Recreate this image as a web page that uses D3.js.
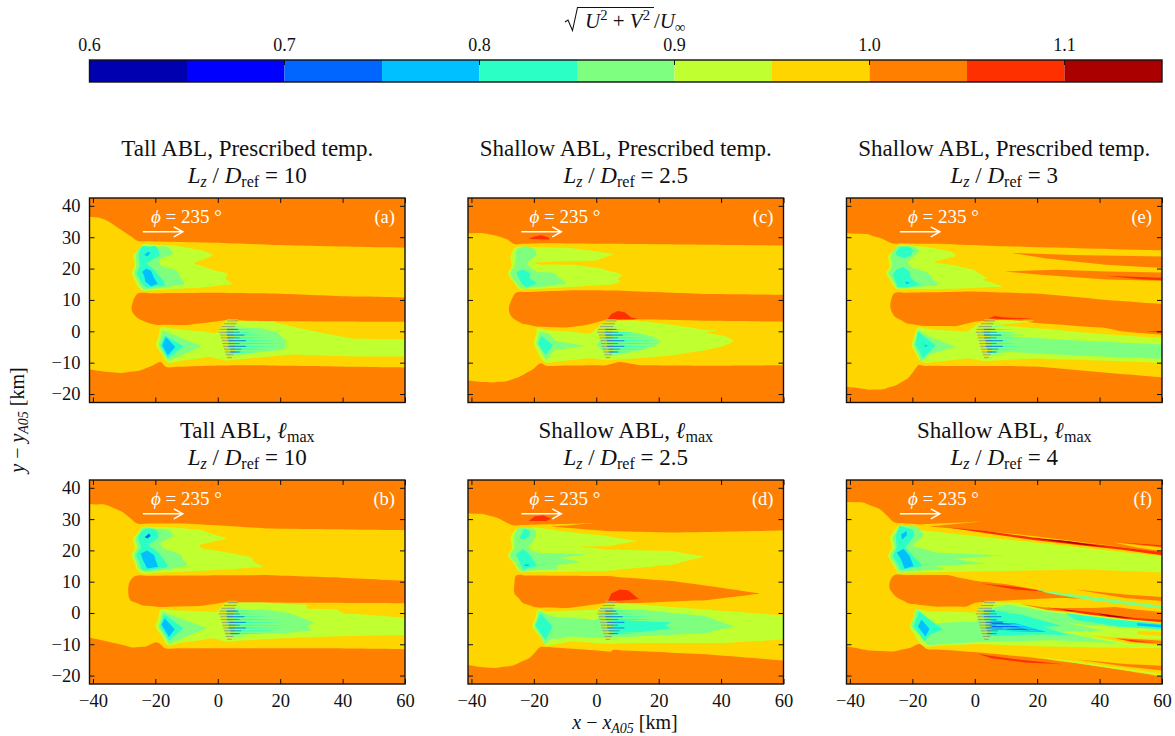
<!DOCTYPE html>
<html><head><meta charset="utf-8">
<script src="https://cdn.jsdelivr.net/npm/d3@7"></script>
<style>html,body{margin:0;padding:0;background:#fff}svg{display:block}text{font-family:"Liberation Serif",serif;fill:#111}</style>
</head><body><div id="chart"></div>
<script>
// ---- colour levels (colourbar) ----
const levelEdges=[0.6,0.65,0.7,0.75,0.8,0.85,0.9,0.95,1.0,1.05,1.1,1.15];
const levelColors=["#0000b0","#0000ff","#0066ff","#00c0ff","#2cffc6","#7fff7f","#c0ff30","#ffd500","#ff8000","#ff3000","#aa0000"];
const barTicks=[0.6,0.7,0.8,0.9,1.0,1.1];
const xTicks=[-40,-20,0,20,40,60];
const yTicks=[-20,-10,0,10,20,30,40];
const B=0,BL=1,AZ=2,CY=3,TE=4,GR=5,YG=6,YE=7,OR=8,RE=9,DR=10;

// ---- panel (a) ----
const aYellow=[[-41.2,36.7],[-38,36.2],[-35,35],[-32,33],[-29,31],[-25.6,28.8],[0,28.2],[20,27.5],[40,27],[60.5,26.6],[60.5,10.7],[40,11.2],[20,12],[0,12.3],[-25.5,12.1],[-26.5,11],[-27.6,8],[-27.5,6.5],[-26,4.5],[-23,3],[-19.8,2.1],[-10,2],[2.7,3.5],[20,3.2],[60.5,3],[60.5,-11.6],[30,-11.1],[10,-10.8],[0,-10.9],[-16.5,-11.4],[-18.4,-9.8],[-21,-11],[-25,-12.5],[-31,-13.3],[-35,-13],[-41.2,-11.7]];
const aYgTop=[[-24,27.7],[-13.4,27.3],[-4.8,25.7],[-1.6,24.3],[-7.5,21.6],[-3.7,20.3],[3.2,18.2],[2.5,16.8],[4.5,15.2],[-4.8,14],[-18.7,13.1],[-24,12.9],[-25.6,14.2],[-27.6,18.4],[-26.7,21],[-27,24.3]];
const aGrTop=[[-25,26.7],[-16.6,27],[-14.4,24.8],[-18.7,22.7],[-18.2,21],[-12.8,19],[-12,17.4],[-10.7,15.2],[-16.6,14],[-23.5,13.3],[-25,14.7],[-26.7,18.4],[-26,21],[-26.2,24.3]];
const aTeTop=[[-24.2,27],[-19.8,27],[-18.8,24.3],[-22.5,21.6],[-20.3,19.5],[-17.6,16.3],[-17,14.7],[-21.9,14],[-24,14.7],[-25.9,18.4],[-25,21],[-25.3,24.3]];
const aCyTop1=[[-24.2,19],[-22.9,20],[-21.4,19.3],[-20.3,16.8],[-19.2,15.2],[-21.4,14.4],[-23.2,15.8],[-23.5,17.5]];
const aCyTop2=[[-23.6,24.3],[-22.3,25.4],[-21.6,25],[-22.5,23.9]];
const aYgLow=[[-18.2,1.2],[-0.5,-0.5],[2.7,3.5],[17.6,3],[29.4,0.3],[43,-2.3],[60.5,-2.7],[60.5,-8],[43,-8],[24,-7.4],[2.7,-9.3],[-2.7,-8.2],[-16,-10],[-19.8,-4.5]];
const aGrLow=[[-17.6,0.3],[-5.1,-4.8],[-16,-9.5],[-19,-4.5]];
const aTeLow=[[-17,-1.3],[-11,-4.8],[-16,-8.7],[-18.4,-4.5]];
const aCyLow=[[-16.6,-1.8],[-13.6,-5],[-16,-7.7],[-17.8,-4.5]];
const aGrRear=[[3,1.2],[14,1],[19,-0.3],[22,-3],[21.5,-5.8],[15,-6.5],[3,-7.5]];
const aFingers=[5,7,9,11,13,15,17,19,21,20,18,14,9,6];
const aLayers=[[YE,aYellow],[YG,aYgTop],[GR,aGrTop],[TE,aTeTop],[CY,aCyTop1],[CY,aCyTop2],[YG,aYgLow],[GR,aGrLow],[TE,aTeLow],[CY,aCyLow],[GR,aGrRear]];

// ---- panel (b) ----
const bYellow=[[-41.4,34.9],[-36,34.6],[-30.6,32.3],[-25.8,28.6],[-11.3,28.6],[-0.5,28],[15.6,27],[60.5,26.4],[60.5,10.1],[37,11.4],[15.6,12.1],[-26.3,11.9],[-28.2,10],[-28.7,6.8],[-28,4.1],[-24.2,2.5],[-18.8,1.9],[-5.9,2.2],[2.7,3.4],[60.5,3.1],[60.5,-11.6],[37,-11.3],[-16.7,-11.3],[-19.4,-9.4],[-23.1,-10.7],[-27.4,-11],[-32.8,-9.7],[-41.4,-7]];
const bYgTop=[[-24.2,27.5],[-14.5,27.3],[-5.9,26.6],[2.7,23.8],[-5.9,21.7],[-4.8,20.6],[4.8,19],[10.8,17.7],[11.8,16.1],[14.5,14.8],[4.8,14],[-11.3,13.2],[-24.2,12.6],[-25.8,13.7],[-27.6,18.5],[-26.6,20.6],[-27.1,23.8]];
const bGrTop=[[-24,27.3],[-16.1,26.6],[-14.3,24.6],[-18.3,22.4],[-17.7,20.9],[-11.8,18.5],[-11.1,16.9],[-9.7,15.3],[-15.6,14],[-23.1,13.2],[-25.3,14.2],[-26.9,18.5],[-25.8,20.9],[-26.3,23.8]];
const bTeTop=[[-23.7,26.6],[-19.9,26.6],[-19,24.3],[-22,21.7],[-18.8,19],[-17.2,16.9],[-16.1,14.8],[-22,13.7],[-24.2,13.9],[-26.1,18.5],[-24.7,21.1],[-25.5,23.8]];
const bCyTop1=[[-24.7,19],[-22.6,20],[-20.4,18.5],[-19.9,16.9],[-19.1,14.8],[-22.6,14.2],[-24,16.9]];
const bCyTop2=[[-23.4,24.3],[-22,25.4],[-21.5,24.6],[-22.6,23.8]];
const bYgLow=[[-18.3,1],[-0.5,0.4],[2.7,3.4],[15.6,3.3],[28.5,2.5],[28.5,1.5],[38.2,1],[40.3,-0.1],[60.5,-1.7],[60.5,-7],[37,-7.5],[21,-8.1],[2.7,-9.1],[-1.6,-8.1],[-16.1,-10.2],[-19.9,-4.4]];
const bGrLow=[[-17.7,0.4],[-3.5,-4.9],[-15.6,-9.9],[-19,-4.4]];
const bTeLow=[[-17.2,-0.4],[-11.1,-4.9],[-15.6,-8.9],[-18.5,-4.4]];
const bCyLow=[[-17,-1.7],[-13.8,-5.2],[-15.6,-7.7],[-18,-3.8]];
const bGrRear=[[2.7,1],[15.6,1],[23.1,-0.1],[28.5,-2.2],[30.9,-3.1],[28.5,-4.4],[30.3,-5.6],[21,-6.5],[2.7,-7]];
const bFingers=[5,7,9,12,14,17,19,21,23,22,19,15,10,6];
const bLayers=[[YE,bYellow],[YG,bYgTop],[GR,bGrTop],[TE,bTeTop],[CY,bCyTop1],[AZ,bCyTop2],[YG,bYgLow],[GR,bGrLow],[TE,bTeLow],[CY,bCyLow],[GR,bGrRear]];

// ---- panel (c) ----
const cYellow=[[-41.2,31.3],[-36.3,31.3],[-32,30.5],[-28.8,29.4],[-26.2,27.8],[-18,28.1],[13.9,27.8],[60.5,27.3],[60.5,11.6],[35,11.9],[6.4,13],[-7.5,13.1],[-25.6,12.4],[-27.2,10],[-28,7],[-27.2,4.7],[-24,2.6],[-19.2,1.5],[-9.6,1.2],[-3.2,2],[3.2,3.6],[13.9,3.8],[35,3.4],[60.5,3],[60.5,-10.8],[35,-11],[13.9,-10.8],[7.5,-9.8],[3.2,-10.8],[-16,-11],[-17.8,-10.2],[-20.3,-12.1],[-24.6,-14.5],[-28.8,-15.9],[-33,-16.3],[-37.4,-16.1],[-41.2,-15.2]];
const cRedTop=[[-21.7,29.4],[-19.8,30.2],[-17.6,30.6],[-15.4,30],[-14.9,29.3]];
const cRedBump=[[3.5,3.8],[4.8,5.5],[6.9,6.5],[9.1,6.1],[11.2,4.4],[13.4,4],[11.8,3.8]];
const cYgTop=[[-24.6,27],[-7.5,26.5],[0,25.5],[5.3,24.6],[0,22.6],[-13.9,22.2],[-19.8,21.9],[-18.2,21.3],[-7.5,21.2],[1,20.1],[6.9,18.5],[8.2,17.7],[6.9,16.6],[7.8,16],[5.3,15],[-5.3,14.3],[-18.2,13.5],[-24.6,13.4],[-26.2,15.3],[-28.3,18.5],[-27.2,20.7],[-27.5,23.9],[-26.2,26.5]];
const cGrTop=[[-23,27],[-19.8,26.2],[-19.2,24.4],[-21.9,21.7],[-19.2,19.1],[-13.4,18.5],[-12.2,17.3],[-9.8,15.3],[-16,14.3],[-24,13.7],[-25.6,15.3],[-27.5,18.5],[-26.2,20.7],[-25.8,23.3],[-25.5,26]];
const cTeTop=[[-25.4,19],[-23.5,19.8],[-21.1,18.5],[-21.5,17],[-19,15.3],[-22.4,14],[-24,15.3],[-25.4,18]];
const cYgLow=[[-18.9,1],[-16,0.4],[-2,-0.6],[3.2,3.4],[12.8,3.4],[24.6,2],[35.3,0.4],[38.5,0.2],[35.3,-0.3],[41.7,-1.7],[43.8,-3.1],[40.6,-4.7],[35.3,-6],[24.6,-7.6],[13.9,-8.6],[3.2,-9.2],[-2.1,-8.6],[-16,-10],[-18.2,-8.1],[-20,-4],[-19.2,-0.6]];
const cGrLow=[[-18.2,-0.1],[-15,-0.9],[-13,-3],[-3.7,-4.7],[-13.4,-6],[-16,-9.2],[-19.2,-4]];
const cTeLow=[[-17.6,-1.4],[-13.9,-4.4],[-16.2,-7.6],[-18.7,-4]];
const cGrRear=[[0,-4.4],[3,-1],[7.5,-0.1],[13.9,-0.6],[18.2,-1.7],[20.8,-3.3],[18.2,-4.9],[13.9,-6.2],[7.5,-7],[3,-7]];
const cFingers=[4,6,8,10,13,15,17,19,20,19,16,12,8,5];
const cLayers=[[YE,cYellow],[RE,cRedTop],[RE,cRedBump],[YG,cYgTop],[GR,cGrTop],[TE,cTeTop],[YG,cYgLow],[GR,cGrLow],[TE,cTeLow],[GR,cGrRear]];

// ---- panel (d) ----
const dYellow=[[-41.2,31.9],[-36.4,31.6],[-32,30.5],[-26.7,28],[-18.2,28.3],[-1,28.7],[-14.4,27.6],[3.2,26.2],[24.6,25.7],[60.5,26.4],[60.5,-15.5],[35.3,-13.2],[5.3,-11.8],[4.8,-12.3],[-16,-10.9],[-17.9,-10.9],[-21.4,-14.4],[-26.7,-16.8],[-32.6,-17.6],[-37.4,-17.3],[-41.2,-16]];
const dNotch=[[-25.7,12],[3.2,11.8],[24.6,10.2],[40.6,8],[52.4,6.2],[35.3,4.1],[13.9,3.2],[3.2,3.2],[-9.1,1.6],[-19.3,1.8],[-23.5,3.2],[-26.2,6.2],[-26.2,9.6]];
const dRedTop=[[-21.7,29.4],[-19.8,30.8],[-17.1,31.2],[-14.4,30.2],[-16,29.4]];
const dRedBump=[[3.7,3.7],[4.8,6.2],[7.5,7.5],[10.2,7.3],[12.3,5.6],[13.6,4.5],[9.6,4.1]];
const dYgTop=[[-25.7,26.7],[-19.3,27.3],[-7.5,25.7],[3.2,24.6],[12.8,23],[4.3,21.4],[-5.3,21.2],[3.2,20.3],[24.6,19.8],[34.2,18],[24.6,15.5],[3.2,13.4],[-18.2,13],[-24.6,13.2],[-28.3,18.4],[-27,20.9],[-27.5,24.1]];
const dGrTop=[[-24.6,27.3],[-19.8,26.7],[-19.3,24.6],[-21.6,20.9],[-18.7,19.3],[-3.2,18.7],[-11.2,17.6],[-5.3,16.3],[-12.8,15],[-12.3,14.1],[-24.1,13.4],[-27.6,18.4],[-26.2,20.9],[-26.2,24.6]];
const dTeTop1=[[-24.6,24.1],[-23,27],[-21.2,26.2],[-21.4,24.6],[-23.5,23.3]];
const dTeTop2=[[-25.7,18.7],[-23.5,20.5],[-21.4,18.7],[-18.9,15],[-23.5,13.9]];
const dCyTop=[[-23,15.5],[-21.4,15.5],[-21.8,14.9],[-23,15]];
const dYgLow=[[-18.7,1.1],[-16,0.5],[0,1.1],[3.2,3.2],[13.9,2.7],[35.3,1.1],[60.5,-1.1],[60.5,-8.3],[40.6,-9.6],[13.9,-9.6],[3.2,-9.8],[-7.5,-9.1],[-16,-10.4],[-20.5,-4.3]];
const dGrLow=[[-18.2,0.5],[-13.9,-1.1],[0,-2.1],[2.1,1.1],[13.9,1.1],[35.3,-1.1],[43.9,-4.3],[35.3,-6.4],[13.9,-7.5],[3.2,-8],[-7.5,-7.5],[-15,-8.6],[-16.3,-9.8],[-19.8,-4.3]];
const dTeLow=[[-17.9,-0.2],[-13.9,-4.3],[-16.3,-8.6],[-19.5,-4]];
const dTeRear=[[5,-2],[12,-2.5],[24,-3],[22,-4],[24,-5],[15,-6],[5,-6.5]];
const dFingers=[5,7,9,12,15,18,20,22,23,21,18,14,9,6];
const dLayers=[[YE,dYellow],[OR,dNotch],[RE,dRedTop],[RE,dRedBump],[YG,dYgTop],[GR,dGrTop],[TE,dTeTop1],[TE,dTeTop2],[CY,dCyTop],[YG,dYgLow],[GR,dGrLow],[TE,dTeLow],[TE,dTeRear]];

// ---- panel (e) ----
const eYellow=[[-41.2,31.4],[-34.8,31],[-30.5,29.8],[-26.3,28],[-11.3,27.9],[10.2,27.1],[60.5,25.7],[60.5,8.4],[42.3,10],[20.9,12],[-0.5,12.7],[-25.7,12.2],[-26.8,10],[-27,7.4],[-25.7,4.7],[-22,2.6],[-16.6,1.7],[-5.9,1.7],[0.5,3.1],[10.2,3.8],[20.9,2.6],[42.3,1],[47.7,-0.1],[60.5,-1.4],[60.5,-15],[42.3,-13.2],[20.9,-11.3],[10.2,-11.1],[-0.5,-11.1],[-16.6,-11],[-17.9,-10.7],[-21.4,-15],[-25.2,-17.2],[-29.5,-18.5],[-33.8,-18.6],[-38,-18],[-41.2,-17.3]];
const eOrange1=[[11.8,25],[31.6,24.3],[60.5,23.8],[60.5,20],[42,21.2],[23,23.2]];
const eOrange2=[[9.6,19.1],[26.2,19.6],[42.3,19.1],[60.5,18.7],[60.5,16],[42.3,16.5],[21,18]];
const eRed1=[[41.8,17.7],[53,17.3],[60.5,17],[60.5,16.1],[53,16.6]];
const eRed2=[[4.3,4.2],[6.4,4.9],[9.1,4.5],[18.8,4],[10.2,3.8]];
const eRed3=[[54.7,-0.1],[60.5,0.2],[60.5,-0.6]];
const eYgTop=[[-24.1,27.6],[-15.5,26.9],[-8,25.5],[-6.1,24.2],[-12.9,22],[-5.9,20.9],[-0.5,19.6],[3.8,17],[2.8,16.5],[8.8,14.3],[-0.5,13.8],[-12.3,13.4],[-24.7,13.4],[-26.3,14.8],[-28.4,18.6],[-27.3,20.7],[-27.7,23.9]];
const eGrTop=[[-24.7,27.1],[-19.3,26.9],[-17.9,25.5],[-21.4,21.8],[-20.4,20.5],[-15,18.6],[-11.8,14.8],[-17.7,14.1],[-24.7,13.8],[-27.7,18.6],[-26.5,20.7],[-26.8,24.4]];
const eTeTop1=[[-24.1,26.9],[-21.4,27.1],[-19.6,26],[-20.4,24.4],[-22.5,23.4],[-24.7,23.9],[-25.4,25]];
const eTeTop2=[[-25.2,19.6],[-23,20.5],[-20.9,19.1],[-20.4,17],[-17.7,14.8],[-22,14],[-24.7,14.1],[-26.3,18]];
const eCyTop=[[-22.2,15.9],[-20.7,15.5],[-22,15]];
const eYgLow=[[-18.2,1.2],[-11.3,0.4],[-2.7,-0.1],[1.6,2.6],[7,3.4],[19,3.4],[12,2.4],[6,2],[20,1],[40,-0.8],[60.5,-2.5],[60.5,-10.2],[40,-9.3],[20,-8.7],[3,-9.5],[-2,-8.7],[-16,-10],[-18,-9],[-20.2,-4.5],[-19,0]];
const eGrLow=[[-18.2,0.4],[-14.5,-1.7],[-6.1,-4.9],[-14.5,-7.3],[-17.1,-9.7],[-19.6,-4.4]];
const eTeLow=[[-18.2,-0.1],[-12.5,-4.6],[-16.6,-8.6],[-19,-4.1]];
const eCyLow=[[-16,-4.2],[-15,-4.6],[-16,-5]];
const eGrRear=[[3.8,-0.6],[13.4,-1.7],[30,-2.8],[60.5,-4.4],[60.5,-8.9],[31.6,-7.6],[10.2,-6.5],[3.8,-6]];
const eFingers=[6,9,11,13,15,17,14,12,14,15,13,11,9,6];
const eLayers=[[YE,eYellow],[OR,eOrange1],[OR,eOrange2],[RE,eRed1],[RE,eRed2],[RE,eRed3],[YG,eYgTop],[GR,eGrTop],[TE,eTeTop1],[TE,eTeTop2],[CY,eCyTop],[YG,eYgLow],[GR,eGrLow],[TE,eTeLow],[CY,eCyLow],[GR,eGrRear]];

// ---- panel (f) ----
const fYellow=[[-41,35.6],[-35.9,35.3],[-30.5,33.2],[-25.7,28.9],[-17.7,28.3],[2.1,29.2],[-14.5,27.6],[14.5,25.1],[42.3,21.7],[60.5,18.4],[60.5,-21],[48,-18.4],[32,-16],[19,-14.3],[0,-12.5],[-15.5,-11.4],[-17.7,-9.9],[-20.9,-11.2],[-26.3,-12.3],[-33.8,-12],[-41,-9.9]];
const fYellowFinger=[[44.5,22.5],[60.5,20.5],[60.5,19.3],[52,20.9]];
const fRedFinger=[[47,22.5],[60.5,21.4],[60.5,20.8],[52,22]];
const fRedTop=[[-8.6,27.3],[3.8,26.2],[18.8,24.1],[42.3,21.6],[60.5,18.9],[60.5,17.9],[46.6,20.3],[35.9,21.4],[18.8,23.3],[3.8,25.5]];
const fDarkTop=[[18.2,24],[29.5,23],[42.3,21.1],[33.8,21.9],[23,23.3]];
const fYgTop=[[-24.7,27.8],[-17.7,26.5],[25.2,21.9],[60.5,17.6],[60.5,12.8],[35.9,13.9],[-24.7,12.8],[-27.9,18.2],[-26.5,20.9],[-27.3,24.1]];
const fGrTop=[[-24.1,27.8],[-18.8,27.6],[-16.6,24.6],[-19.8,21.6],[-12.3,19.3],[9.6,18.4],[-7,17.3],[3.5,15.8],[-12.3,15],[-10,14],[-24.1,13.2],[-27.1,18.2],[-25.7,20.9],[-26.3,24.1]];
const fTeTop=[[-24.1,27.8],[-19.8,26.7],[-19.3,24.8],[-22.2,20.9],[-19.3,17.6],[-16.6,15],[-23.6,13.7],[-26.3,18.2],[-25,20.9],[-25.4,24.6]];
const fCyTop1=[[-23.6,25.1],[-21.8,26.2],[-21.8,24.8],[-23.3,23.5]];
const fCyTop2=[[-25,19.3],[-22.8,20.5],[-20.9,18.2],[-19.6,15],[-22.5,14.1],[-23.6,17.1]];
const fNotch=[[-25.7,12.1],[-9,12.1],[0,10.3],[10.7,9.1],[24.7,6.6],[37.5,4.5],[26.8,4.8],[16,4.3],[6.4,3.8],[0,3.2],[-2.7,2.1],[-12,2],[-21,3],[-25,5],[-27.3,8],[-27,10.5]];
const fRedNotch=[[2.1,9.4],[12.9,8.4],[24.4,6.6],[12.9,7.5]];
const fGrThin=[[19.3,7.5],[37.5,5.2],[60.5,1.8],[60.5,0.9],[37.5,4],[24,6.2]];
const fOrFinger1=[[32.2,7.5],[48.2,5.9],[60.5,4.8],[60.5,3.5],[48.2,4.8]];
const fYgLow=[[-18.8,1.3],[-14.5,0.5],[0,0.3],[3.2,3.5],[13.9,3.2],[23.6,1],[35.4,-0.5],[60.5,-3.8],[60.5,-11.3],[37.5,-11],[21.4,-10.7],[0,-9.9],[-16,-10.7],[-18,-9.2],[-20.8,-4.3]];
const fOrBand=[[14.5,2.9],[23.6,1.6],[37.5,1.6],[45,1.9],[51.4,1.1],[60.5,0],[60.5,-3.2],[51.4,-2.1],[35.4,0],[23.6,0.9]];
const fRedBand=[[22,1.9],[35.4,0.5],[51.4,-1.6],[60.5,-2.4],[60.5,-3.2],[48.2,-1.9],[35.4,-0.3]];
const fDarkBand1=[[27.9,1.1],[32.2,0.8],[30,0.7]];
const fDarkBand2=[[39.1,-0.1],[51.4,-1.8],[42.9,-1.1]];
const fGrLow=[[-18.5,1.1],[-12.9,-3.2],[0.5,-2.7],[2.7,1.1],[10.7,2.7],[19.3,1.1],[29,-0.5],[45,-2.8],[60.5,-4.5],[60.5,-5.4],[46,-4.5],[38,-4],[30,-3.2],[40.7,-5.6],[28,-6],[35,-7.5],[45,-9.6],[25,-8.7],[3,-9.2],[-14.5,-10.2],[-20.4,-4.3]];
const fTeLow=[[-17.9,0.5],[-10.2,-5.3],[-14.5,-7],[-16.1,-9.1],[-19.6,-4.3]];
const fCyLow=[[-17.1,-2.1],[-14.5,-5.1],[-15.8,-7.5],[-18.2,-4.3]];
const fTeRear=[[3.8,1.1],[14.5,-0.5],[22,-2.5],[28,-4.2],[22,-4.4],[30,-7],[20,-6.8],[14,-7],[3.8,-7.5]];
const fCyRear=[[5,-2],[14,-3.5],[23,-6.1],[13,-5.9],[4,-5.5]];
const fAzRear=[[5,-2.8],[11,-3.5],[18,-5.7],[11,-5.3],[5,-4.5]];
const fTeRight=[[28.9,0],[45,-2.1],[60.5,-3.8],[60.5,-5.4],[46,-4.3],[32,-2.1]];
const fCyRight=[[52,-3.2],[60.5,-4.2],[60.5,-5],[52,-4]];
const fYeFinger1=[[52.5,-5.7],[60.5,-6.4],[60.5,-7.6],[52,-6.8]];
const fYeFinger2=[[37.5,-7.3],[50,-8],[60.5,-8.5],[60.5,-10.5],[50,-9.8]];
const fOrFinger2=[[44.5,-8],[52.5,-8.4],[60.5,-9.1],[60.5,-10.2],[51.4,-9.4]];
const fRedFinger2=[[46,-8.3],[50.4,-8.6],[57.9,-9.6],[50.4,-9.1]];
const fYgEdge=[[19,-13.8],[32,-15.4],[48,-17.8],[60.5,-20],[60.5,-20.6],[48,-18.2],[32,-15.9]];
const fOrFinger3=[[32.2,-14.8],[48.2,-16.3],[60.5,-17.1],[60.5,-18.8],[48.2,-17.1]];
const fRedLow=[[1.1,-13.1],[10.7,-14.5],[28.4,-16.4],[16,-15.8],[5.4,-14.5]];
const fFingers=[6,9,12,15,18,20,22,25,27,25,22,18,12,7];
const fLayers=[[YE,fYellow],[YE,fYellowFinger],[RE,fRedFinger],[RE,fRedTop],[DR,fDarkTop],[YG,fYgTop],[GR,fGrTop],[TE,fTeTop],[CY,fCyTop1],[CY,fCyTop2],[OR,fNotch],[RE,fRedNotch],[GR,fGrThin],[OR,fOrFinger1],[YG,fYgLow],[OR,fOrBand],[RE,fRedBand],[DR,fDarkBand1],[DR,fDarkBand2],[GR,fGrLow],[TE,fTeLow],[CY,fCyLow],[TE,fTeRear],[CY,fCyRear],[AZ,fAzRear],[TE,fTeRight],[CY,fCyRight],[YE,fYeFinger1],[YE,fYeFinger2],[OR,fOrFinger2],[RE,fRedFinger2],[YG,fYgEdge],[OR,fOrFinger3],[RE,fRedLow]];

// ---- rotor-array stripes, in km ----
const stripeY=[3.3,2.4,1.5,0.6,-0.3,-1.2,-2.1,-3,-3.9,-4.8,-5.7,-6.6,-7.5,-8.4];
const stripeLeft=[3,2,1.2,0.6,0.3,0.8,1,1.3,1.5,1.7,2,2.3,2.6,3];
const stripeGrayEnd=[6.5,6,5.5,5.5,5,5,5,5.5,5.5,5.5,5.5,5.5,5,4.5];
const stripeBlueStart=[4,4,4,3,3,3,3,3.5,3.5,3.5,4,4,4,4];
const stripeBlueEnd=[6,5.5,6,6.5,7,8.5,7,9,7,9,7.5,7,5.5,4.5];
const arrowX=[-24,-11.2], arrowY=31.7, labelX=-21.4, labelY=34.6;

const panelIds=["a","b","c","d","e","f"];
const panelLayers=[aLayers,bLayers,cLayers,dLayers,eLayers,fLayers];
const panelFingers=[aFingers,bFingers,cFingers,dFingers,eFingers,fFingers];
const titles=["Tall ABL, Prescribed temp.","Tall ABL, ","Shallow ABL, Prescribed temp.","Shallow ABL, ","Shallow ABL, Prescribed temp.","Shallow ABL, "];
const ratios=["10","10","2.5","2.5","3","4"];

// ---- layout ----
const W=1175,H=736;
const cols=[89.5,468,846.5], pw=315.5, rows=[[198,402.5],[480,684]];
const svg=d3.select("#chart").append("svg").attr("width",W).attr("height",H);
const ink="#111";

function math(parent,x,y,parts,size,anchor){
  const t=parent.append("text").attr("x",x).attr("y",y).attr("font-size",size).attr("text-anchor",anchor||"middle");
  let off=0;
  parts.forEach(p=>{
    const s=t.append("tspan").text(p.t);
    const shift=p.sub?size*0.2:p.sup?-size*0.36:0;
    const fs=(p.sub||p.sup)?size*0.7:size;
    s.attr("font-size",fs).attr("dy",shift-off);
    if(p.i)s.attr("font-style","italic");
    if(p.dx)s.attr("dx",p.dx);
    off=shift;
  });
  return t;
}

// ---- colourbar ----
const cx=d3.scaleLinear().domain([0.6,1.15]).range([89.5,1162]);
const cb=svg.append("g");
cb.selectAll("rect").data(levelColors).join("rect")
  .attr("x",(d,i)=>cx(levelEdges[i])).attr("width",(d,i)=>cx(levelEdges[i+1])-cx(levelEdges[i]))
  .attr("y",60).attr("height",22).attr("fill",d=>d);
cb.append("rect").attr("x",89.5).attr("y",60).attr("width",1072.5).attr("height",22).attr("fill","none").attr("stroke",ink).attr("stroke-width",1.4);
cb.selectAll("line").data(barTicks).join("line").attr("x1",d=>cx(d)).attr("x2",d=>cx(d)).attr("y1",60).attr("y2",65).attr("stroke",ink);
cb.selectAll("text.t").data(barTicks).join("text").attr("class","t").attr("x",d=>cx(d)).attr("y",51).attr("text-anchor","middle").attr("font-size",18).text(d=>d.toFixed(1));
svg.append("path").attr("d","M565,22L568,20L572.5,30.5L577.5,7.5L654,7.5").attr("fill","none").attr("stroke",ink).attr("stroke-width",1.1);
math(svg,585,28,[{t:"U",i:true},{t:"2",sup:true},{t:" + "},{t:"V",i:true},{t:"2",sup:true}],21,"start");
math(svg,654,28,[{t:"/"},{t:"U",i:true},{t:"∞",sub:true}],21,"start");

// off-plot points keep the curve from bowing at the frame
const ext=p=>p[0]>=60.4?[64,p[1]]:p[0]<=-41?[-45,p[1]]:p;
// long straight runs are split so the curve rounds corners only, never bows along them
function split(pts,step){
  const out=[];
  pts.forEach((p,i)=>{
    const q=pts[(i+1)%pts.length], n=Math.max(1,Math.ceil(Math.hypot(q[0]-p[0],q[1]-p[1])/step));
    for(let j=0;j<n;j++) out.push([p[0]+(q[0]-p[0])*j/n,p[1]+(q[1]-p[1])*j/n]);
  });
  return out;
}

// ---- panels ----
panelIds.forEach((id,k)=>{
  const c=Math.floor(k/2), r=k%2, x0=cols[c], [top,bot]=rows[r];
  const x=d3.scaleLinear().domain([-41.1,60]).range([x0,x0+pw]);
  const y=d3.scaleLinear().domain([-22.7,42.5]).range([bot,top]);
  const line=d3.line().x(d=>x(d[0])).y(d=>y(d[1]));
  const smooth=d3.line().x(d=>x(d[0])).y(d=>y(d[1])).curve(d3.curveCatmullRomClosed.alpha(0.5));
  const clip="clip"+id;
  svg.append("clipPath").attr("id",clip).append("rect").attr("x",x0).attr("y",top).attr("width",pw).attr("height",bot-top);
  const g=svg.append("g").attr("clip-path",`url(#${clip})`);
  g.append("rect").attr("x",x0).attr("y",top).attr("width",pw).attr("height",bot-top).attr("fill",levelColors[OR]);
  // contour layers
  g.selectAll("path.l").data(panelLayers[k]).join("path").attr("class","l")
    .attr("d",d=>{const pts=d[1].map(ext); return pts.length>=12?smooth(split(pts,4)):line(pts)+"Z";})
    .attr("fill",d=>levelColors[d[0]]);
  // rotor-array fingers
  stripeY.forEach((sy,i)=>{
    const end=panelFingers[k][i], left=stripeLeft[i], outer=(i<3||i>11);
    const w=outer?0.26:0.3;
    g.append("path").attr("d",line([[left+2,sy+w],[end,sy],[left+2,sy-w]])+"Z").attr("fill",levelColors[outer?GR:TE]);
    g.append("path").attr("d",line([[left,sy+0.45],[stripeGrayEnd[i],sy+0.45]])).attr("stroke",levelColors[YE]).attr("stroke-width",0.8).attr("fill","none").attr("opacity",0.75);
    g.append("path").attr("d",line([[left,sy],[stripeGrayEnd[i],sy]])).attr("stroke","#8f9a80").attr("stroke-width",0.9).attr("fill","none");
    if(!outer) g.append("path").attr("d",line([[stripeBlueStart[i],sy],[stripeBlueEnd[i],sy]])).attr("stroke",i%2?"#1464e0":"#2a8fb0").attr("stroke-width",0.8).attr("fill","none");
  });
  // arrow + annotation
  const ay=y(arrowY), ax1=x(arrowX[0]), ax2=x(arrowX[1]);
  svg.append("path").attr("d",`M${ax1},${ay}L${ax2},${ay}M${ax2-9},${ay-5}L${ax2},${ay}L${ax2-9},${ay+5}`).attr("fill","none").attr("stroke","#fff").attr("stroke-width",1.5);
  const ann=math(svg,x(labelX),y(labelY),[{t:"ϕ",i:true},{t:" = 235"},{t:" °"}],19,"start");
  ann.selectAll("tspan").style("fill","#fff");
  svg.append("text").attr("x",x0+pw-10).attr("y",top+25).attr("text-anchor","end").attr("font-size",18.5).style("fill","#fff").text(`(${id})`);
  // axes: inward ticks on all four sides
  const tick=5, sw=1;
  const bottomAxis=d3.axisBottom(x).tickValues(xTicks).tickSizeInner(-tick).tickSizeOuter(0).tickPadding(10);
  const topAxis=d3.axisTop(x).tickValues(xTicks).tickSizeInner(-tick).tickSizeOuter(0).tickFormat("");
  const leftAxis=d3.axisLeft(y).tickValues(yTicks).tickSizeInner(-tick).tickSizeOuter(0).tickPadding(9);
  const rightAxis=d3.axisRight(y).tickValues(yTicks).tickSizeInner(-tick).tickSizeOuter(0).tickFormat("");
  const ax=[[bottomAxis,`translate(0,${bot})`,r===1],[topAxis,`translate(0,${top})`,false],[leftAxis,`translate(${x0},0)`,c===0],[rightAxis,`translate(${x0+pw},0)`,false]];
  ax.forEach(([a,tr,labels])=>{
    if(!labels && (a===bottomAxis||a===leftAxis)) a.tickFormat("");
    const s=svg.append("g").attr("transform",tr).call(a);
    s.select(".domain").remove();
    s.selectAll("line").attr("stroke",ink).attr("stroke-width",sw);
    s.selectAll("text").attr("font-size",18.5).attr("font-family","Liberation Serif");
  });
  svg.append("rect").attr("x",x0).attr("y",top).attr("width",pw).attr("height",bot-top).attr("fill","none").attr("stroke",ink).attr("stroke-width",1.4);
  // titles
  const mid=x0+pw/2, b1=top-42.5, b2=top-15.5;
  const p1=[{t:titles[k]}];
  if(r===1){p1.push({t:"ℓ",i:true},{t:"max",sub:true});}
  math(svg,mid,b1,p1,23);
  math(svg,mid,b2,[{t:"L",i:true},{t:"z",i:true,sub:true},{t:" / "},{t:"D",i:true},{t:"ref",sub:true},{t:" = "+ratios[k]}],23);
});

// ---- axis labels ----
math(svg,625,729,[{t:"x",i:true},{t:" − "},{t:"x",i:true},{t:"A05",i:true,sub:true},{t:" [km]"}],20);
const yl=svg.append("g").attr("transform","translate(24,420) rotate(-90)");
math(yl,0,0,[{t:"y",i:true},{t:" − "},{t:"y",i:true},{t:"A05",i:true,sub:true},{t:" [km]"}],20);
</script></body></html>
